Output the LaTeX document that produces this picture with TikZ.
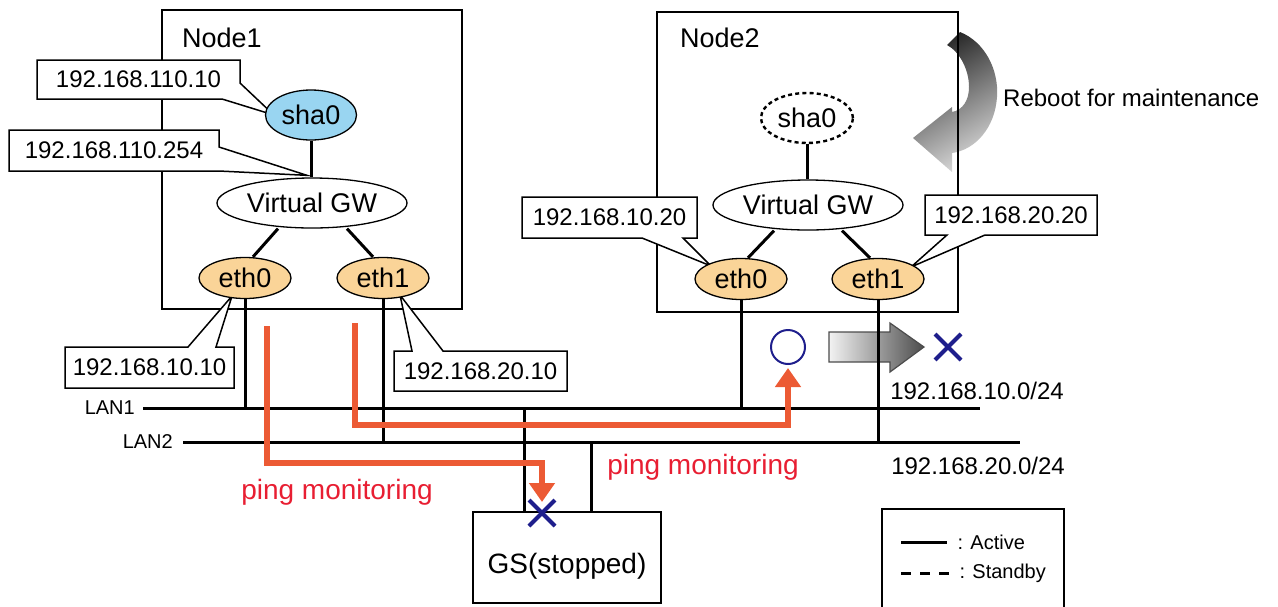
\documentclass[tikz,border=0pt]{standalone}
\usepackage{fontspec}
\setmainfont{Liberation Sans}
\usetikzlibrary{arrows.meta,positioning,calc,shapes.geometric,shapes.misc,backgrounds}
\definecolor{shafill}{RGB}{153,213,241}
\definecolor{ethfill}{RGB}{250,212,152}
\definecolor{pingred}{RGB}{236,90,52}
\definecolor{pingtxt}{RGB}{232,30,50}
\definecolor{markblue}{RGB}{30,30,140}
\tikzset{
  hostbox/.style={draw,line width=1.6pt,inner sep=0pt,outer sep=0pt},
  hostlbl/.style={anchor=west,inner sep=0pt,font=\fontsize{27}{30}\selectfont},
  ifc/.style={ellipse,draw,line width=1.3pt,inner sep=0pt,
              minimum width=92pt,minimum height=41pt,font=\fontsize{27}{30}\selectfont},
  shaif/.style={ifc,fill=shafill,minimum width=91pt,minimum height=50pt},
  shasb/.style={ifc,fill=white,minimum height=50pt,line width=2.4pt,dash pattern=on 4pt off 3.2pt},
  vgwif/.style={ifc,fill=white,minimum width=190pt,minimum height=50pt},
  ethif/.style={ifc,fill=ethfill},
  link/.style={line width=3pt},
  iptxt/.style={inner sep=0pt,outer sep=0pt,font=\fontsize{24}{26}\selectfont},
  callout/.style={draw,fill=white,line width=1.5pt},
  netlbl/.style={inner sep=0pt,font=\fontsize{24}{26}\selectfont},
  lanlbl/.style={anchor=east,inner sep=0pt,font=\fontsize{20}{22}\selectfont},
  ping/.style={draw=pingred,line width=6pt,-{Triangle[width=25pt,length=19pt]}},
  pinglbl/.style={text=pingtxt,inner sep=0pt,font=\fontsize{28}{30}\selectfont},
  gslbl/.style={inner sep=0pt,font=\fontsize{28}{30}\selectfont},
  xmark/.style={cross out,draw=markblue,line width=4pt,minimum size=22pt,inner sep=0pt},
  okmark/.style={circle,draw=markblue,line width=2pt,minimum size=34pt,inner sep=0pt},
  legline/.style={line width=3pt},
  leglbl/.style={anchor=west,inner sep=0pt,font=\fontsize{20}{22}\selectfont},
}

\begin{document}
\begin{tikzpicture}[x=1pt,y=-1pt]
  \useasboundingbox (0,0) rectangle (1278,606);

  % Node1
  \node[shaif] (shaA)  at (311,115) {sha0};
  \node[vgwif] (vgwA)  at (312,203) {Virtual GW};
  \node[ethif] (ethA0) at (245,278) {eth0};
  \node[ethif] (ethA1) at (383,278) {eth1};
  \node[hostlbl] (host1lbl) at (182,38) {Node1};

  % Node2
  \node[shasb] (shaB)  at (807,118) {sha0};
  \node[vgwif] (vgwB)  at (808,205) {Virtual GW};
  \node[ethif] (ethB0) at (741,279) {eth0};
  \node[ethif] (ethB1) at (878,279) {eth1};
  \node[hostlbl] (host2lbl) at (680,38) {Node2};

  \node[iptxt,minimum width=203pt,minimum height=39pt] (ipA) at (138.5,79.5)  {192.168.110.10};
  \node[iptxt,minimum width=210pt,minimum height=41pt] (ipB) at (114,150.5)   {192.168.110.254};
  \node[iptxt,minimum width=169pt,minimum height=41pt] (ipC) at (149.5,367.5) {192.168.10.10};
  \node[iptxt,minimum width=173pt,minimum height=40pt] (ipD) at (480.5,371)   {192.168.20.10};
  \node[iptxt,minimum width=175pt,minimum height=41pt] (ipE) at (609.5,217.5) {192.168.10.20};
  \node[iptxt,minimum width=172pt,minimum height=40pt] (ipF) at (1011,215)    {192.168.20.20};

  \begin{scope}[on background layer]
    \shade[top color=black!85,bottom color=black!15,shading angle=30]
      (960,32) .. controls (985,42) and (999,70) .. (997,97)
      .. controls (995,128) and (975,150) .. (952,153) -- (952,172) -- (913,138)
      -- (952,107) -- (952,112) .. controls (963,110) and (969,100) .. (969,87)
      .. controls (969,70) and (960,52) .. (947,45) -- cycle;
    \node[hostbox,minimum width=300pt,minimum height=299pt] (host1) at (312,159.5) {};
    \node[hostbox,minimum width=301pt,minimum height=300pt] (host2) at (807.5,162) {};

    \draw[callout] (ipA.north west) -- (ipA.north east) -- ($(ipA.north east)+(0,23)$)
      -- ($(shaA.west)+(9,0)$) -- ($(ipA.south east)+(-18,0)$) -- (ipA.south west) -- cycle;
    \draw[callout] (ipB.north west) -- (ipB.north east) -- ($(ipB.north east)+(0,17)$)
      -- ($(vgwA.north)+(-5,-2)$) -- (ipB.south east) -- (ipB.south west) -- cycle;
    \draw[callout] (ipC.north west) -- ($(ipC.north west)+(123,0)$) -- ($(ethA0)+(-13,18)$)
      -- ($(ipC.north west)+(151,0)$) -- (ipC.north east) -- (ipC.south east) -- (ipC.south west) -- cycle;
    \draw[callout] (ipD.north west) -- ($(ipD.north west)+(18,0)$) -- ($(ethA1)+(17,17)$)
      -- ($(ipD.north west)+(49,0)$) -- (ipD.north east) -- (ipD.south east) -- (ipD.south west) -- cycle;
    \draw[callout] (ipE.north west) -- (ipE.north east) -- (ipE.south east) -- ($(ipE.south west)+(161,0)$)
      -- ($(ethB0)+(-30,-13)$) -- ($(ipE.south west)+(120,0)$) -- (ipE.south west) -- cycle;
    \draw[callout] (ipF.north west) -- (ipF.north east) -- (ipF.south east) -- ($(ipF.south west)+(60,0)$)
      -- ($(ethB1)+(33,-12)$) -- ($(ipF.south west)+(22,0)$) -- (ipF.south west) -- cycle;
  \end{scope}

  \node[netlbl,anchor=west] (reboot) at (1003,98) {Reboot for maintenance};

  \draw[link] (shaA.south) -- (shaA.south |- vgwA.north);
  \draw[link] ([xshift=-34pt]vgwA.south) -- ([xshift=8pt]ethA0.north);
  \draw[link] ([xshift=35pt]vgwA.south) -- ([xshift=-10pt]ethA1.north);
  \draw[link] (shaB.south) -- (shaB.south |- vgwB.north);
  \draw[link] ([xshift=-34pt]vgwB.south) -- ([xshift=7pt]ethB0.north);
  \draw[link] ([xshift=34pt]vgwB.south) -- ([xshift=-8pt]ethB1.north);

  % LANs
  \coordinate (lan1w) at (143,408);
  \coordinate (lan1e) at (980,408);
  \coordinate (lan2w) at (183,442);
  \coordinate (lan2e) at (1020,442);
  \draw[link] (lan1w) -- (lan1e);
  \draw[link] (lan2w) -- (lan2e);
  \node[lanlbl] (lan1lbl) at ([xshift=-8pt]lan1w) {LAN1};
  \node[lanlbl] (lan2lbl) at ([xshift=-10pt]lan2w) {LAN2};
  \node[netlbl] (net1) at (977,391) {192.168.10.0/24};
  \node[netlbl] (net2) at (978,466) {192.168.20.0/24};

  \shadedraw[left color=black!5,right color=black!70,draw=black!70,line width=1.2pt]
    (829,332) -- (890,332) -- (890,323) -- (924,347) -- (890,372) -- (890,362) -- (829,362) -- cycle;

  \draw[link] (ethA0.south) -- (ethA0.south |- lan1w);
  \draw[link] (ethA1.south) -- (ethA1.south |- lan2w);
  \draw[link] (ethB0.south) -- (ethB0.south |- lan1w);
  \draw[link] (ethB1.south) -- (ethB1.south |- lan2w);

  % GS
  \node[hostbox,fill=white,minimum width=188pt,minimum height=91pt] (gs) at (567,557.5) {};
  \node[gslbl] (gstxt) at (567,566) {GS(stopped)};
  \coordinate (gsl) at ([xshift=-43pt]gs.north);
  \coordinate (gsr) at ([xshift=24pt]gs.north);
  \draw[link] (gsl) -- (gsl |- lan1w);
  \draw[link] (gsr) -- (gsr |- lan2w);

  % legend
  \node[hostbox,minimum width=182pt,minimum height=100pt] (legend) at (973,559) {};
  \coordinate (legA) at ($(legend.north west)+(19,33)$);
  \coordinate (legS) at ($(legend.north west)+(19,64)$);
  \draw[legline] (legA) -- ++(46,0) node[leglbl,xshift=9pt] (legAlbl) {: Active};
  \draw[legline,dash pattern=on 10pt off 9pt] (legS) -- ++(51,0) node[leglbl,xshift=6pt] (legSlbl) {: Standby};

  % ping monitoring
  \node[xmark] (gsx) at (542,513) {};
  \node[okmark] (ok) at (788,347) {};
  \node[xmark] (ngx) at (948,347) {};
  \coordinate (p1s) at (267,326);
  \coordinate (p2s) at (355,323);
  \draw[ping] (p1s) -- ++(0,137) -| ([yshift=-2pt]gsx.north);
  \draw[ping] (p2s) -- ++(0,102) -| ([yshift=-3pt]ok.south);
  \node[pinglbl] (ping1lbl) at (337,492) {ping monitoring};
  \node[pinglbl] (ping2lbl) at (703,467) {ping monitoring};
\end{tikzpicture}
\end{document}
